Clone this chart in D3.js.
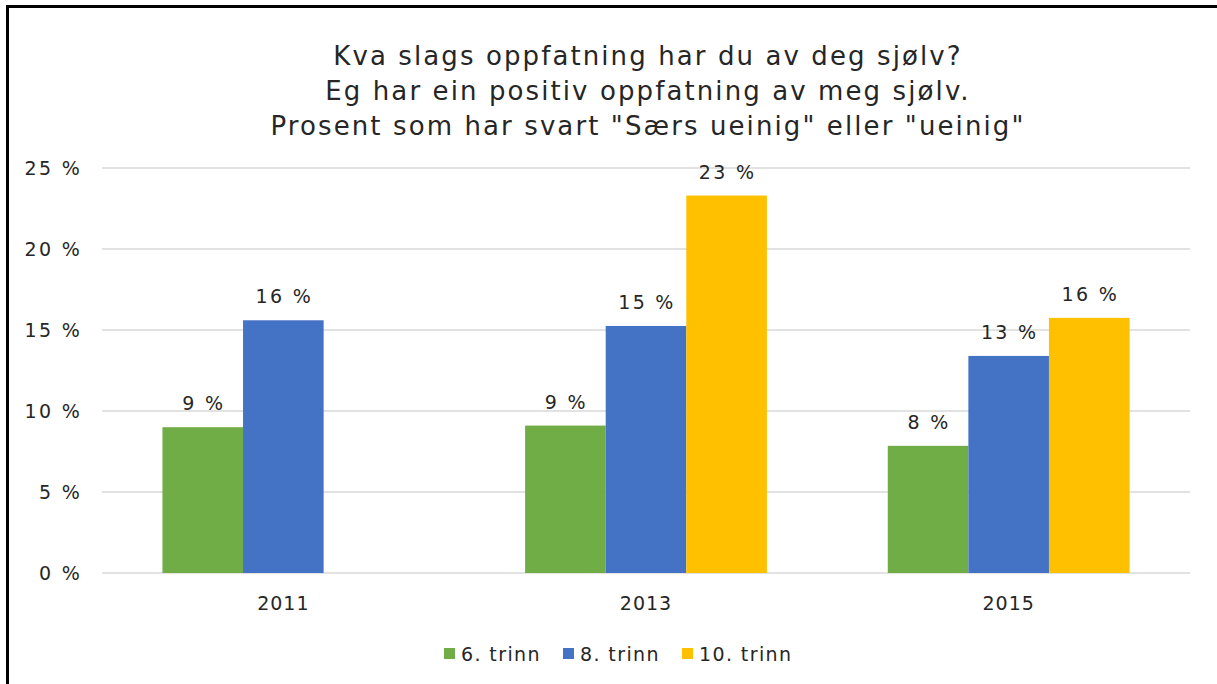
<!DOCTYPE html>
<html><head><meta charset="utf-8">
<script src="https://cdn.jsdelivr.net/npm/d3@7"></script>
<style>body{margin:0;background:#fff}svg{display:block}text{font-family:"DejaVu Sans",Verdana,sans-serif;fill:#262626}</style>
</head><body><svg id="c" width="1217" height="684"></svg>
<script>
const categories = ["2011","2013","2015"];
const seriesNames = ["6. trinn","8. trinn","10. trinn"];
const s6 = [9.0, 9.1, 7.85];
const s8 = [15.6, 15.25, 13.4];
const s10 = [null, 23.3, 15.75];
const yTicks = [0,5,10,15,20,25];
const titleLines = ["Kva slags oppfatning har du av deg sjølv?","Eg har ein positiv oppfatning av meg sjølv.","Prosent som har svart \"Særs ueinig\" eller \"ueinig\""];
const colors = ["#70AD47","#4472C4","#FFC000"];

const series = [s6,s8,s10];
const svg = d3.select("#c");
svg.append("rect").attr("x",7.5).attr("y",6.5).attr("width",1230).attr("height",700).attr("fill","none").attr("stroke","#000").attr("stroke-width",3);

const L=102,R=1190,T=168,B=573;
const y = d3.scaleLinear().domain([0,25]).range([B,T]);
const x0 = d3.scaleBand().domain(categories).range([L,R]).padding(0);
const x1 = d3.scaleBand().domain(seriesNames).range([0,x0.bandwidth()]).paddingInner(0).paddingOuter(0.75);

const g = svg.append("g");
g.selectAll("line.grid").data(yTicks).join("line")
 .attr("x1",L).attr("x2",R).attr("y1",d=>y(d)).attr("y2",d=>y(d))
 .attr("stroke","#d9d9d9").attr("stroke-width",1.3);

const yAxis = g.append("g").attr("transform",`translate(${L},0)`)
 .call(d3.axisLeft(y).tickValues(yTicks).tickFormat(d=>d+" %").tickSize(0).tickPadding(20));
yAxis.select(".domain").remove();
yAxis.selectAll("text").attr("font-size",19).attr("letter-spacing",2.3).attr("fill","#262626").attr("font-family","DejaVu Sans");

const xAxis = g.append("g").attr("transform",`translate(0,${B})`)
 .call(d3.axisBottom(x0).tickSize(0).tickPadding(24));
xAxis.select(".domain").remove();
xAxis.selectAll("text").attr("font-size",19).attr("letter-spacing",1).attr("fill","#262626").attr("font-family","DejaVu Sans");

const bars = [];
series.forEach((s,i)=>s.forEach((v,j)=>{ if(v!=null) bars.push({cat:categories[j],name:seriesNames[i],v,c:colors[i]}); }));
g.selectAll("rect.bar").data(bars).join("rect")
 .attr("x",d=>x0(d.cat)+x1(d.name)).attr("width",x1.bandwidth())
 .attr("y",d=>y(d.v)).attr("height",d=>B-y(d.v)).attr("fill",d=>d.c);
g.selectAll("text.lbl").data(bars).join("text")
 .attr("x",d=>x0(d.cat)+x1(d.name)+x1.bandwidth()/2+1).attr("y",d=>y(d.v)-17)
 .attr("text-anchor","middle").attr("font-size",19).attr("letter-spacing",2.3).text(d=>Math.round(d.v)+" %");

svg.selectAll("text.title").data(titleLines).join("text")
 .attr("x",648).attr("y",(d,i)=>65+i*35).attr("text-anchor","middle").attr("font-size",26).attr("letter-spacing",2.1).text(d=>d);

const legX=[444,563,682];
const leg = svg.append("g");
seriesNames.forEach((n,i)=>{
  leg.append("rect").attr("x",legX[i]).attr("y",648).attr("width",11).attr("height",11).attr("fill",colors[i]);
  leg.append("text").attr("x",legX[i]+17).attr("y",661).attr("font-size",19).attr("letter-spacing",1.4).text(n);
});
</script></body></html>
